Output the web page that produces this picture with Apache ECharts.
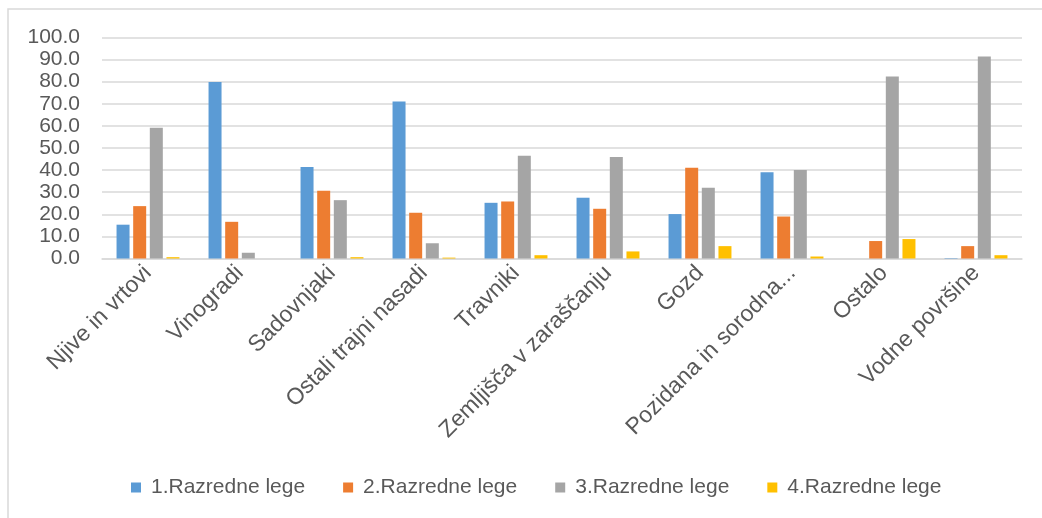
<!DOCTYPE html>
<html lang="sl">
<head>
    <meta charset="UTF-8">
    <title>Razredne lege</title>
    <script src="https://cdn.jsdelivr.net/npm/echarts@6/dist/echarts.min.js"></script>
</head>
<body style="margin:0">
    <div id="main" style="width:1042px; height:518px"></div>
    <script type="text/javascript">
        // podatki
        var kategorije = ['Njive in vrtovi', 'Vinogradi', 'Sadovnjaki', 'Ostali trajni nasadi', 'Travniki',
            'Zemljišča v zaraščanju', 'Gozd', 'Pozidana in sorodna...', 'Ostalo', 'Vodne površine'];
        var razred1 = [15.3, 79.9, 41.4, 71.0, 25.2, 27.5, 20.1, 39.0, 0.0, 0.2];
        var razred2 = [23.7, 16.6, 30.7, 20.7, 25.8, 22.5, 41.1, 19.0, 7.9, 5.6];
        var razred3 = [59.2, 2.6, 26.4, 6.9, 46.5, 45.9, 32.0, 40.0, 82.3, 91.4];
        var razred4 = [0.6, 0.0, 0.6, 0.4, 1.5, 3.2, 5.6, 0.9, 8.8, 1.5];
        var imena = ['1.Razredne lege', '2.Razredne lege', '3.Razredne lege', '4.Razredne lege'];

        var chartDom = document.getElementById('main');
        var myChart = echarts.init(chartDom);
        var option;

        var pisava = 'Liberation Sans';
        var barve = ['#5b9bd5', '#ed7d31', '#a5a5a5', '#ffc000'];

        function serija(ime, podatki) {
            return {
                name: ime,
                type: 'bar',
                barWidth: 13,
                barGap: '28%',
                data: podatki
            };
        }

        option = {
            color: barve,
            animation: false,
            textStyle: { fontFamily: pisava },
            graphic: [{
                type: 'rect',
                shape: { x: 8, y: 9, width: 1200, height: 700 },
                style: { fill: 'none', stroke: '#d9d9d9', lineWidth: 1.5 },
                silent: true
            }],
            grid: {
                left: 102,
                right: 20,
                top: 37.5,
                bottom: 259.5
            },
            legend: {
                bottom: 15,
                left: 126,
                itemWidth: 10,
                itemHeight: 10,
                itemGap: 38,
                icon: 'rect',
                textStyle: { color: '#595959', fontSize: 21, fontFamily: pisava, padding: [0, 0, 0, 5] },
                data: imena
            },
            xAxis: {
                type: 'category',
                data: kategorije,
                axisLine: { lineStyle: { color: '#d9d9d9', width: 1.5 } },
                axisTick: { show: false },
                axisLabel: {
                    rotate: 45,
                    interval: 0,
                    margin: 11,
                    color: '#595959',
                    fontSize: 23,
                    fontFamily: pisava
                }
            },
            yAxis: {
                type: 'value',
                min: 0,
                max: 100,
                interval: 10,
                axisLine: { show: false },
                axisTick: { show: false },
                splitLine: { lineStyle: { color: '#d9d9d9', width: 1.5 } },
                axisLabel: {
                    color: '#595959',
                    fontSize: 21,
                    margin: 22,
                    fontFamily: pisava,
                    formatter: function (v) { return v.toFixed(1); }
                }
            },
            series: [
                serija(imena[0], razred1),
                serija(imena[1], razred2),
                serija(imena[2], razred3),
                serija(imena[3], razred4)
            ]
        };

        option && myChart.setOption(option);
    </script>
</body>
</html>
